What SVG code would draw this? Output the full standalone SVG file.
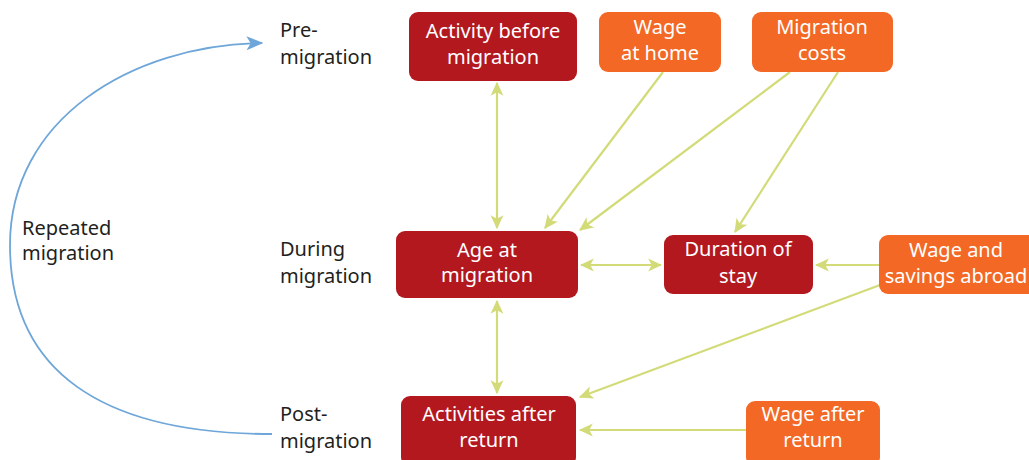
<svg xmlns="http://www.w3.org/2000/svg" width="1029" height="460" viewBox="0 0 1029 460">
<style>
.dark{fill:#b3181f}
.orange{fill:#f26824}
.bt{font-family:"Noto Sans","Open Sans",sans-serif;font-size:20px;fill:#ffffff;text-anchor:middle}
.lbl{font-family:"Noto Sans","Open Sans",sans-serif;font-size:20px;fill:#231f20}
.con{stroke:#d3db78;stroke-width:2.2;fill:none}
</style>
<defs>
<marker id="ah" viewBox="0 0 12 12" refX="11" refY="6" markerWidth="14" markerHeight="14" markerUnits="userSpaceOnUse" orient="auto-start-reverse">
<path d="M0,0.5 L12,6 L0,11.5 L3,6 Z" fill="#d3db78"/>
</marker>
<marker id="bh" viewBox="0 0 12 12" refX="11" refY="6" markerWidth="17" markerHeight="17" markerUnits="userSpaceOnUse" orient="auto">
<path d="M0,1 L12,6 L0,11 L3,6 Z" fill="#6ea6d9"/>
</marker>
</defs>
<rect width="1029" height="460" fill="#ffffff"/>
<g id="connectors">
<path d="M272,434 C100,434 10,370 10,245 C10,120 130,45 262,43" fill="none" stroke="#6ea6d9" stroke-width="1.8" marker-end="url(#bh)"/>
<line class="con" x1="497" y1="83" x2="497" y2="228" style="marker-start:url(#ah);marker-end:url(#ah)"/>
<line class="con" x1="497" y1="301" x2="497" y2="393" style="marker-start:url(#ah);marker-end:url(#ah)"/>
<line class="con" x1="581" y1="265" x2="661" y2="265" style="marker-start:url(#ah);marker-end:url(#ah)"/>
<line class="con" x1="879" y1="265" x2="816" y2="265" marker-end="url(#ah)"/>
<line class="con" x1="663" y1="72" x2="545" y2="228" marker-end="url(#ah)"/>
<line class="con" x1="790" y1="72" x2="580" y2="230" marker-end="url(#ah)"/>
<line class="con" x1="838" y1="72" x2="735" y2="232" marker-end="url(#ah)"/>
<line class="con" x1="880" y1="285" x2="580" y2="397" marker-end="url(#ah)"/>
<line class="con" x1="746" y1="430" x2="580" y2="430" marker-end="url(#ah)"/>
</g>
<g id="labels">
<text class="lbl" x="280" y="37">Pre-</text>
<text class="lbl" x="280" y="64">migration</text>
<text class="lbl" x="280" y="256">During</text>
<text class="lbl" x="280" y="283">migration</text>
<text class="lbl" x="280" y="421">Post-</text>
<text class="lbl" x="280" y="448">migration</text>
<text class="lbl" x="22" y="235">Repeated</text>
<text class="lbl" x="22" y="260">migration</text>
</g>
<g id="activity-before">
<rect class="dark" x="409" y="12" width="168" height="69" rx="9"/>
<text class="bt" x="493" y="38">Activity before</text>
<text class="bt" x="493" y="64">migration</text>
</g>
<g id="wage-home">
<rect class="orange" x="599" y="12" width="122" height="60" rx="9"/>
<text class="bt" x="660" y="34">Wage</text>
<text class="bt" x="660" y="60">at home</text>
</g>
<g id="migration-costs">
<rect class="orange" x="752" y="12" width="141" height="60" rx="9"/>
<text class="bt" x="822" y="34">Migration</text>
<text class="bt" x="822" y="60">costs</text>
</g>
<g id="age-migration">
<rect class="dark" x="396" y="231" width="182" height="67" rx="9"/>
<text class="bt" x="487" y="257">Age at</text>
<text class="bt" x="487" y="282">migration</text>
</g>
<g id="duration-stay">
<rect class="dark" x="664" y="235" width="149" height="59" rx="9"/>
<text class="bt" x="738" y="256">Duration of</text>
<text class="bt" x="738" y="283">stay</text>
</g>
<g id="wage-abroad">
<rect class="orange" x="879" y="235" width="160" height="59" rx="9"/>
<text class="bt" x="956" y="257">Wage and</text>
<text class="bt" x="956" y="283">savings abroad</text>
</g>
<g id="activities-after">
<rect class="dark" x="401" y="396" width="175" height="70" rx="9"/>
<text class="bt" x="489" y="421">Activities after</text>
<text class="bt" x="489" y="447">return</text>
</g>
<g id="wage-after">
<rect class="orange" x="746" y="401" width="134" height="65" rx="9"/>
<text class="bt" x="813" y="421">Wage after</text>
<text class="bt" x="813" y="447">return</text>
</g>
</svg>
